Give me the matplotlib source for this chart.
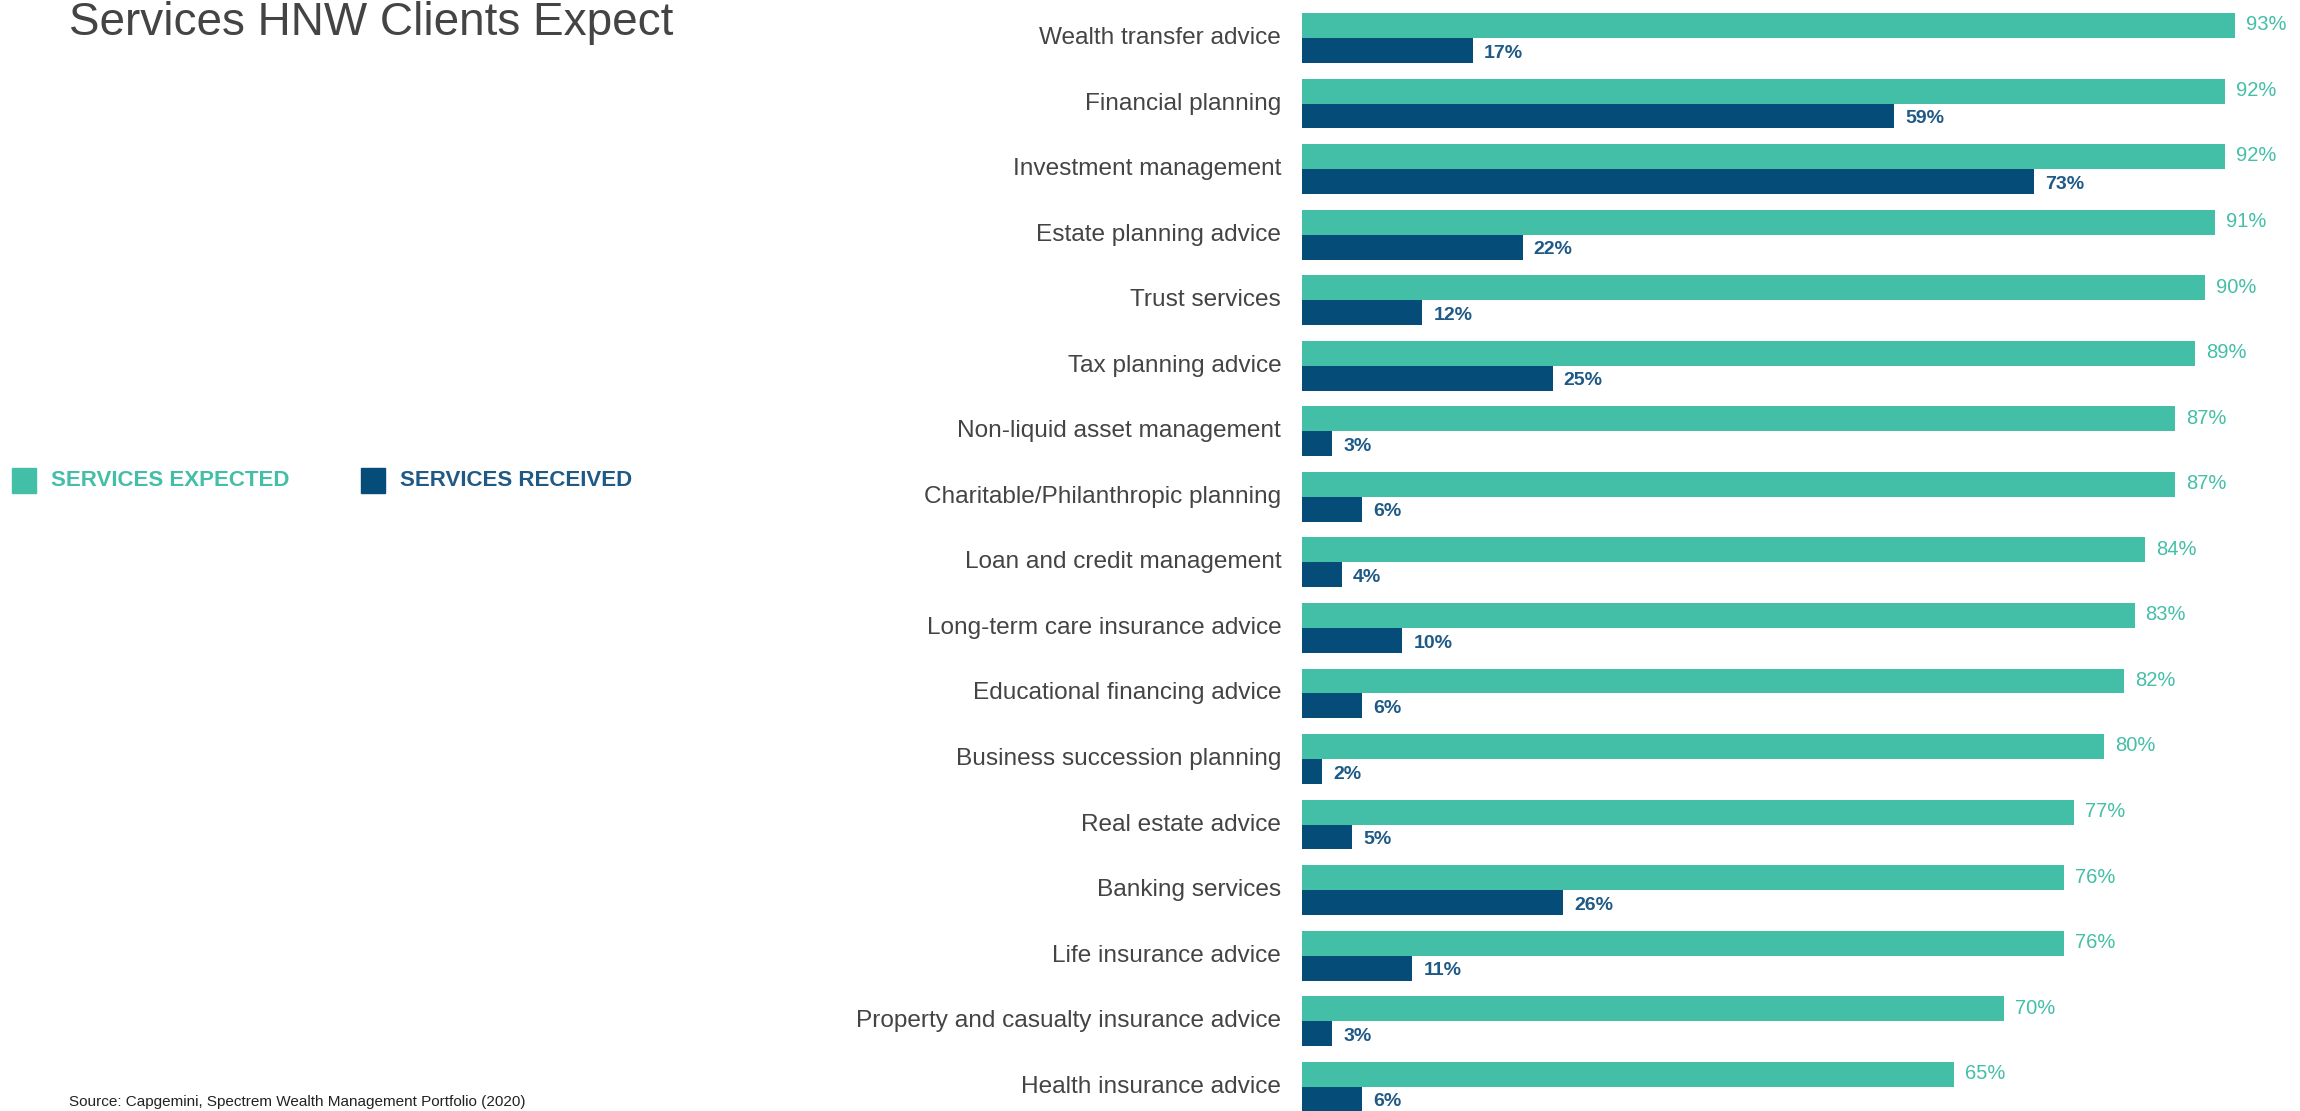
import matplotlib
matplotlib.use("Agg")
import matplotlib.pyplot as plt
import numpy as np

# data
services = ["Wealth transfer advice", "Financial planning", "Investment management",
            "Estate planning advice", "Trust services", "Tax planning advice",
            "Non-liquid asset management", "Charitable/Philanthropic planning",
            "Loan and credit management", "Long-term care insurance advice",
            "Educational financing advice", "Business succession planning",
            "Real estate advice", "Banking services", "Life insurance advice",
            "Property and casualty insurance advice", "Health insurance advice"]
expected = [93, 92, 92, 91, 90, 89, 87, 87, 84, 83, 82, 80, 77, 76, 76, 70, 65]
received = [17, 59, 73, 22, 12, 25, 3, 6, 4, 10, 6, 2, 5, 26, 11, 3, 6]

TEAL = "#43bfa8"
NAVY = "#064c78"
NAVY_TXT = "#1f5a87"
GREY = "#444444"
FONT = ["Liberation Sans", "DejaVu Sans"]

W, H = 2300, 1111
fig = plt.figure(figsize=(W / 100, H / 100), dpi=100)

# axes runs full height, bars cut at the bottom like the source image
ax = fig.add_axes([1302 / W, 0, 1 - 1302 / W, 1])
y = np.arange(len(services))
bh = 0.38
ax.barh(y - bh / 2, expected, height=bh, color=TEAL)
ax.barh(y + bh / 2, received, height=bh, color=NAVY)

ax.set_xlim(0, 99.5)
ax.set_ylim(16.37, -0.58)
ax.axis("off")

for i, (e, r) in enumerate(zip(expected, received)):
    ax.annotate(f"{e}%", (e, i - bh + 0.18), xytext=(8, 0), textcoords="offset points",
                ha="left", va="center", color=TEAL, fontsize=14.5, family=FONT)
    ax.annotate(f"{r}%", (r, i + bh / 2 + 0.04), xytext=(8, 0), textcoords="offset points",
                ha="left", va="center", color=NAVY_TXT, fontsize=14,
                fontweight="bold", family=FONT)
    ax.annotate(services[i], (0, i), xytext=(-15, 0), textcoords="offset points",
                ha="right", va="center", color=GREY, fontsize=17.6, family=FONT)

# title (cut at the top in the source, kept just inside here)
fig.text(69 / W, 1 - 35 / H, "Services HNW Clients Expect", ha="left", va="baseline",
         fontsize=33, color=GREY, family=FONT)

# legend
for x0, label, col, tcol in [(12, "SERVICES EXPECTED", TEAL, TEAL),
                             (361, "SERVICES RECEIVED", NAVY, NAVY_TXT)]:
    fig.patches.append(plt.Rectangle((x0 / W, 1 - 493 / H), 24 / W, 25 / H,
                                     transform=fig.transFigure, color=col))
    fig.text((x0 + 39) / W, 1 - 481 / H, label, ha="left", va="center",
             fontsize=16, fontweight="bold", color=tcol, family=FONT)

# source line at the bottom edge
fig.text(69 / W, 2 / H,
         "Source: Capgemini, Spectrem Wealth Management Portfolio (2020)",
         ha="left", va="bottom", fontsize=11, color="#222222", family=FONT)

fig.savefig("out.png", dpi=100)
